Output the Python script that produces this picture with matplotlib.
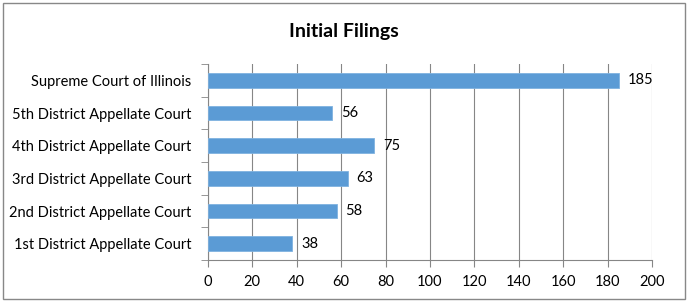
import matplotlib
matplotlib.use('Agg')
from matplotlib import pyplot as plt
from matplotlib.patches import Rectangle

courts = [
    '1st District Appellate Court',
    '2nd District Appellate Court',
    '3rd District Appellate Court',
    '4th District Appellate Court',
    '5th District Appellate Court',
    'Supreme Court of Illinois',
]
filings = [38, 58, 63, 75, 56, 185]

plt.rcParams['font.family'] = ['Lato', 'DejaVu Sans']

fig = plt.figure(figsize=(6.88, 3.02), dpi=100)
ax = fig.add_axes([0.302, 0.139, 0.646, 0.649])

ypos = list(range(len(courts)))
ax.barh(ypos, filings, height=0.45, color='#5B9BD5', edgecolor='#7fb2e0', linewidth=0.6, zorder=3)

for y, v in zip(ypos, filings):
    ax.text(v + 4, y, str(v), va='center', ha='left', fontsize=10.5, color='black')

ax.set_xlim(0, 200)
ax.set_xticks(range(0, 201, 20))
ax.set_ylim(-0.5, len(courts) - 0.5)
ax.set_yticks(ypos)
ax.set_yticklabels(courts)
ax.set_yticks([y - 0.5 for y in range(len(courts) + 1)], minor=True)
ax.tick_params(axis='y', which='major', length=0, pad=12, labelsize=10.5)
ax.tick_params(axis='y', which='minor', length=5, color='#868686', direction='out')
ax.tick_params(axis='x', length=5, color='#868686', labelsize=10.5, pad=6)

ax.grid(axis='x', color='#868686', linewidth=0.8, zorder=0)
for side in ['top', 'right']:
    ax.spines[side].set_visible(False)
for side in ['left', 'bottom']:
    ax.spines[side].set_color('#868686')
    ax.spines[side].set_linewidth(0.8)

fig.text(0.5, 0.895, 'Initial Filings', ha='center', va='center', fontsize=14, fontweight='bold')

fig.patches.append(Rectangle((0.005, 0.01), 0.99, 0.98, transform=fig.transFigure,
                             fill=False, edgecolor='#888888', linewidth=1))

fig.savefig('out.png', dpi=100)
